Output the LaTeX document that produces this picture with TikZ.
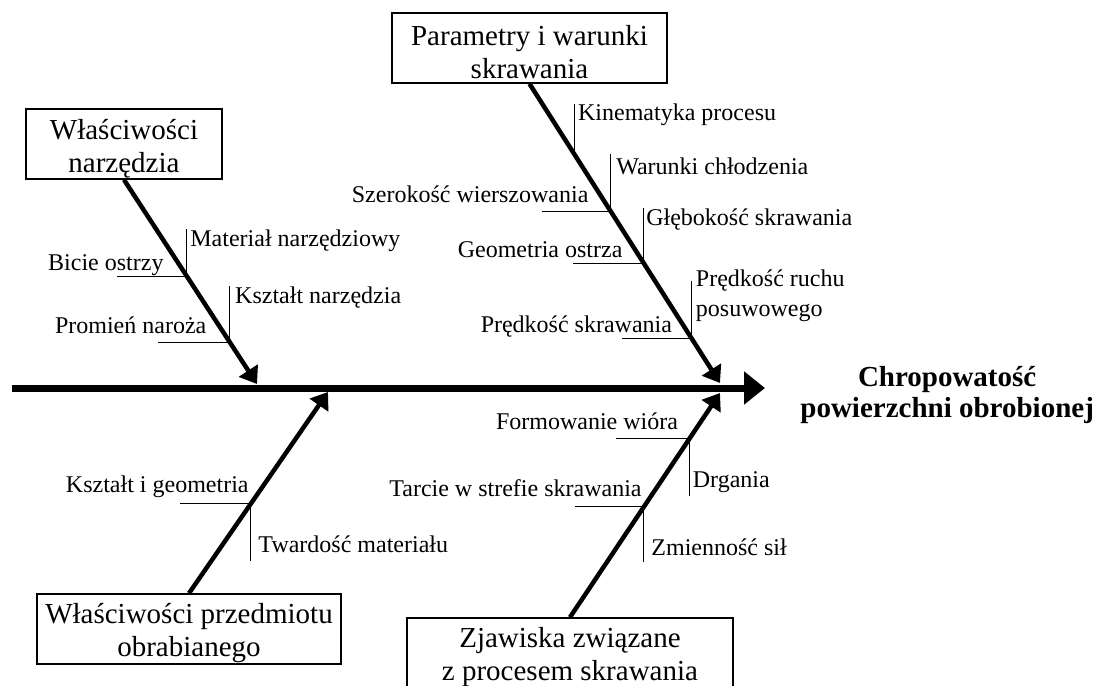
\documentclass[tikz,border=0pt]{standalone}
\usepackage{fontspec}
\setmainfont{Liberation Serif}
\usetikzlibrary{arrows.meta,positioning}
\newcommand\boxstrut{\rule{0pt}{14.5pt}}
\begin{document}
\begin{tikzpicture}[x=0.5pt,y=-0.5pt]
\tikzstyle{every node}+=[inner sep=0pt]
\tikzstyle{box}=[draw,line width=0.75pt,align=center,minimum height=35pt,font=\fontsize{14.5}{16.5}\selectfont]
\tikzstyle{lbl}=[font=\fontsize{12}{15}\selectfont]
\tikzstyle{spine}=[line width=3.5pt,-{Triangle[length=10.5pt,width=16pt]}]
\tikzstyle{bone}=[line width=2.25pt,-{Triangle[length=8pt,width=11pt]}]
\tikzstyle{twig}=[line width=0.5pt]
\useasboundingbox (0,0) rectangle (1099,686);
\node[box,minimum width=98pt] (narz) at (124,144) {\boxstrut Właściwości\\narzędzia};
\node[box,minimum width=137.5pt] (param) at (529.5,48) {\boxstrut Parametry i warunki\\skrawania};
\node[box,minimum width=152pt] (przedm) at (189,629) {\boxstrut Właściwości przedmiotu\\obrabianego};
\node[box,minimum width=163pt] (zjaw) at (570,653) {\boxstrut Zjawiska związane\\z procesem skrawania};
\coordinate (s0) at (12,388);
\coordinate (s1) at (765,388);
\coordinate (t1) at (257,384);
\coordinate (t2) at (720,383);
\coordinate (t3) at (328,392);
\coordinate (t4) at (720,393);
\draw[spine] (s0) -- (s1);
\node[font=\fontsize{14.5}{15.5}\selectfont\bfseries,align=center,right=17.5pt of s1,yshift=-3.5pt] (chrop) {Chropowatość\\powierzchni obrobionej};
\draw[bone] (narz.south) -- (t1) coordinate[pos=.473] (j11) coordinate[pos=.795] (j12);
\draw[bone] (param.south) -- (t2) coordinate[pos=.237] (j21) coordinate[pos=.427] (j22) coordinate[pos=.6] (j23) coordinate[pos=.85] (j24);
\draw[bone] (przedm.north) -- (t3) coordinate[pos=.446] (j31);
\draw[bone] (zjaw.north) -- (t4) coordinate[pos=.493] (j42) coordinate[pos=.796] (j41);
\draw[twig] (j11) -- ++(0,-47) node[lbl,anchor=north west,xshift=1.5pt] (l11) {Materiał narzędziowy};
\draw[twig] (j11) -- ++(-70,0);
\node[lbl,anchor=base east,xshift=-11.5pt,yshift=3pt] (l12) at (j11) {Bicie ostrzy};
\draw[twig] (j12) -- ++(0,-56) node[lbl,anchor=north west,xshift=2.5pt] (l13) {Kształt narzędzia};
\draw[twig] (j12) -- ++(-72,0);
\node[lbl,anchor=base east,xshift=-11.5pt,yshift=4.5pt] (l14) at (j12) {Promień naroża};
\draw[twig] (j21) -- ++(0,-51) node[lbl,anchor=north west,xshift=1.5pt] (l21) {Kinematyka procesu};
\draw[twig] (j22) -- ++(0,-58) node[lbl,anchor=north west,xshift=2.5pt,yshift=-2pt] (l22) {Warunki chłodzenia};
\draw[twig] (j22) -- ++(-69,0);
\node[lbl,anchor=base east,xshift=-11pt,yshift=4.5pt] (l23) at (j22) {Szerokość wierszowania};
\draw[twig] (j23) -- ++(0,-55) node[lbl,anchor=north west,xshift=1pt] (l24) {Głębokość skrawania};
\draw[twig] (j23) -- ++(-71,0);
\node[lbl,anchor=base east,xshift=-10.5pt,yshift=3pt] (l25) at (j23) {Geometria ostrza};
\draw[twig] (j24) -- ++(0,-57) node[lbl,anchor=north west,xshift=2pt,yshift=6pt,align=left] (l26) {Prędkość ruchu\\posuwowego};
\draw[twig] (j24) -- ++(-69,0);
\node[lbl,anchor=base east,xshift=-9.5pt,yshift=3pt] (l27) at (j24) {Prędkość skrawania};
\draw[twig] (j31) -- ++(-71,0);
\node[lbl,anchor=base east,xshift=-1pt,yshift=5.5pt] (l31) at (j31) {Kształt i geometria};
\draw[twig] (j31) -- ++(0,58) node[lbl,anchor=base west,xshift=3.5pt,yshift=4.5pt] (l32) {Twardość materiału};
\draw[twig] (j41) -- ++(-73,0);
\node[lbl,anchor=base east,xshift=-5.5pt,yshift=4.5pt] (l41) at (j41) {Formowanie wióra};
\draw[twig] (j41) -- ++(0,57) node[lbl,anchor=base west,xshift=1.5pt,yshift=4pt] (l42) {Drgania};
\draw[twig] (j42) -- ++(-69,0);
\node[lbl,anchor=base east,xshift=-1pt,yshift=5pt] (l43) at (j42) {Tarcie w strefie skrawania};
\draw[twig] (j42) -- ++(0,55) node[lbl,anchor=base west,xshift=3.5pt,yshift=3pt] (l44) {Zmienność sił};
\end{tikzpicture}
\end{document}
